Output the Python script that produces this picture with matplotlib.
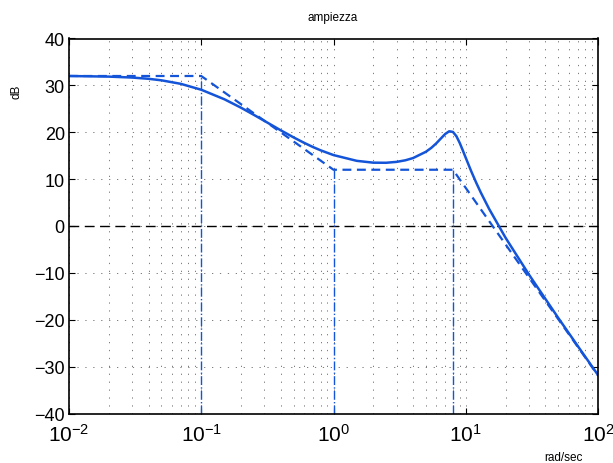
import matplotlib
matplotlib.use("Agg")
import matplotlib.pyplot as plt
from matplotlib.ticker import LogLocator, NullFormatter

plt.rcParams['font.family'] = ['Liberation Sans', 'DejaVu Sans']
plt.rcParams['mathtext.default'] = 'regular'

# curva di ampiezza (rad/sec, dB)
w = [0.01, 0.02, 0.03, 0.04, 0.05, 0.07, 0.1, 0.15, 0.2, 0.25, 0.3, 0.4,
     0.5, 0.6, 0.7, 0.8, 1.0, 1.5, 2.0, 2.5, 3.0, 3.5, 4.0, 5.0, 5.5, 6.0,
     6.5, 7.0, 7.5, 8.0, 8.5, 9.0, 9.5, 10.0, 11.0, 12.0, 13.0, 15.0, 20.0,
     30.0, 50.0, 70.0, 100.0]
mag = [32.0, 31.87, 31.67, 31.40, 31.08, 30.33, 29.07, 27.02, 25.23, 23.71,
       22.43, 20.40, 18.89, 17.74, 16.84, 16.14, 15.13, 13.90, 13.51, 13.49,
       13.68, 14.02, 14.50, 15.84, 16.69, 17.66, 18.70, 19.64, 20.21, 20.07,
       19.15, 17.73, 16.13, 14.55, 11.68, 9.23, 7.13, 3.68, -2.51, -10.33,
       -19.59, -25.53, -31.79]

# diagramma asintotico
w_as = [0.01, 0.1, 1.0, 8.0, 100.0]
mag_as = [32.0, 32.0, 12.0, 12.0, -31.9]

# pulsazioni di rottura
w_br = [0.1, 1.0, 8.0]
mag_br = [32.0, 12.0, 12.0]

blue = '#1454d8'

fig = plt.figure(figsize=(6.13, 4.64), dpi=100)
ax = fig.add_axes([69/613, 1 - 414.5/464, 529/613, 375/464])

ax.set_xscale('log')
ax.set_xlim(1e-2, 1e2)
ax.set_ylim(-40, 40)
ax.set_yticks(range(-40, 41, 10))

grid_kw = dict(linestyle=(0, (1.5, 8)), color='0.4', linewidth=0.6)
ax.grid(True, which='major', **grid_kw)
ax.grid(True, which='minor', axis='x', **grid_kw)

ax.axhline(0, color='black', linestyle=(0, (7, 4)), linewidth=1.0)

for wb, mb in zip(w_br, mag_br):
    ax.plot([wb, wb], [-40, mb], color=blue, linestyle='-.', linewidth=1.0)

ax.plot(w_as, mag_as, color=blue, linestyle=(0, (4, 2.5)), linewidth=1.6)
ax.plot(w, mag, color=blue, linewidth=1.8)

ax.xaxis.set_major_locator(LogLocator(base=10, numticks=10))
ax.xaxis.set_minor_locator(LogLocator(base=10, subs=range(2, 10), numticks=20))
ax.xaxis.set_minor_formatter(NullFormatter())
ax.tick_params(which='both', direction='in', top=True, right=True)
ax.tick_params(which='major', length=4)
ax.tick_params(which='minor', length=0)
ax.tick_params(axis='y', labelsize=13, pad=3)
ax.tick_params(axis='x', labelsize=15, pad=7)
for s in ax.spines.values():
    s.set_linewidth(1.2)

fig.text(333/613, 1 - 18/464, 'ampiezza', ha='center', va='center', fontsize=8.5)
fig.text(17/613, 1 - 92/464, 'dB', ha='center', va='center', rotation=90, fontsize=8.5)
fig.text(563/613, 1 - 458/464, 'rad/sec', ha='center', va='center', fontsize=8.5)

fig.savefig('out.png', dpi=100)
